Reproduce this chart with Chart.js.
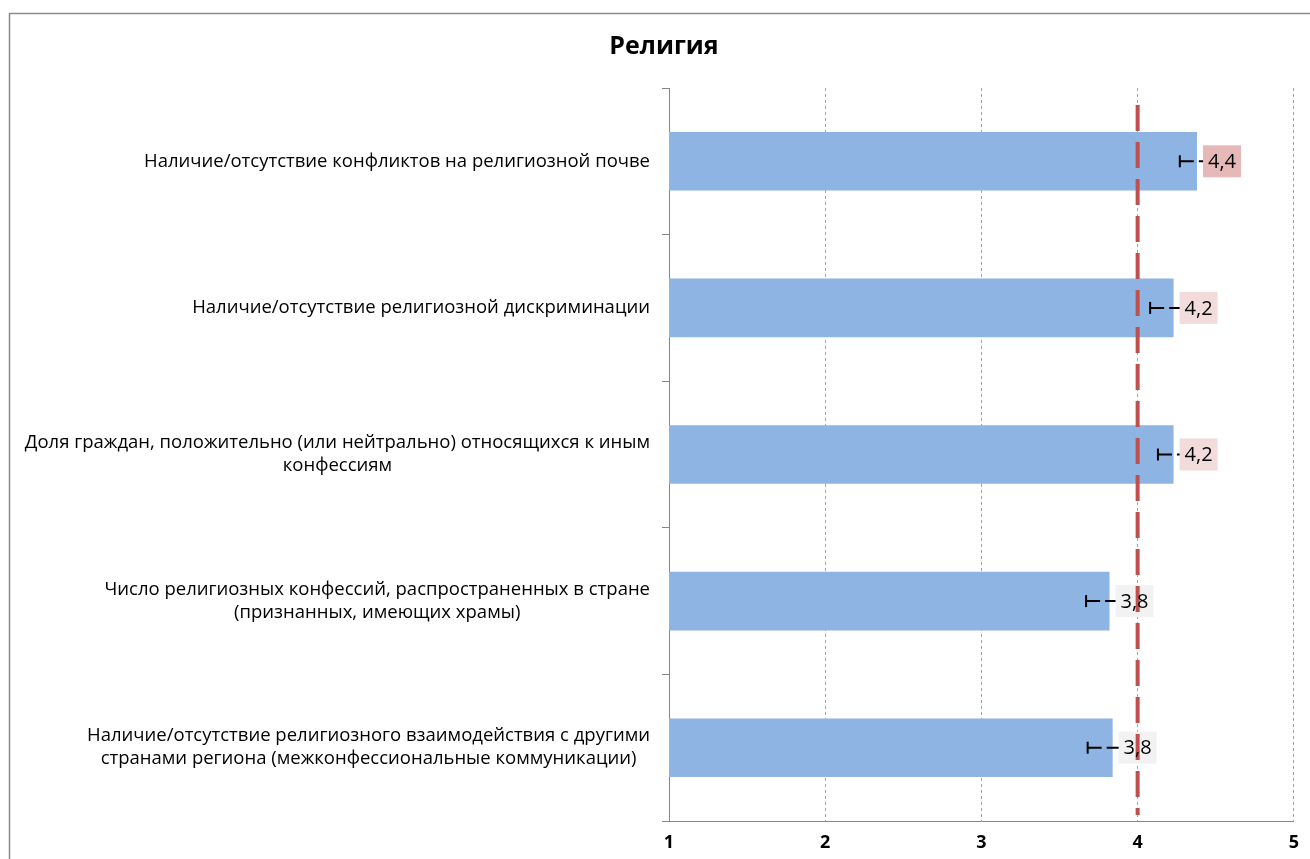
<!DOCTYPE html>
<html>
<head>
<meta charset="utf-8">
<script src="https://cdn.jsdelivr.net/npm/chart.js@4"></script>
<style>
  body { margin: 0; background: #fff; }
  #wrap { width: 1310px; height: 859px; }
</style>
</head>
<body>
<div id="wrap"><canvas id="myChart"></canvas></div>
<script>
const categories = [
    ['Наличие/отсутствие конфликтов на религиозной почве'],
    ['Наличие/отсутствие религиозной дискриминации'],
    ['Доля граждан, положительно (или нейтрально) относящихся к иным', 'конфессиям'],
    ['Число религиозных конфессий, распространенных в стране', '(признанных, имеющих храмы)'],
    ['Наличие/отсутствие религиозного взаимодействия с другими', 'странами региона (межконфессиональные коммуникации)']
];
const values = [4.38, 4.23, 4.23, 3.82, 3.84];
const errors = [0.11, 0.15, 0.10, 0.15, 0.16];
const valueLabels = ['4,4', '4,2', '4,2', '3,8', '3,8'];
const labelColors = ['#E6B9B8', '#F2DCDB', '#F2DCDB', '#F2F2F2', '#F2F2F2'];
const xMin = 1;
const xMax = 5;
const threshold = 4;

const FONT = "'Open Sans', 'Liberation Sans', sans-serif";

// frame, category labels, error bars, value labels, threshold line
const extras = {
    id: 'extras',
    beforeDraw(chart) {
        const ctx = chart.ctx;
        ctx.save();
        ctx.strokeStyle = '#8c8c8c';
        ctx.lineWidth = 1.5;
        ctx.strokeRect(9.5, 13.5, 1400, 1000);
        ctx.restore();
    },
    afterDatasetsDraw(chart) {
        const ctx = chart.ctx;
        const xs = chart.scales.x;
        const ys = chart.scales.y;
        const meta = chart.getDatasetMeta(0);
        ctx.save();

        // category labels, right block, lines centered inside it
        ctx.font = '18.5px ' + FONT;
        ctx.fillStyle = '#000';
        ctx.textAlign = 'center';
        ctx.textBaseline = 'middle';
        categories.forEach((lines, i) => {
            const cy = ys.getPixelForValue(i);
            const w = Math.max(...lines.map(l => ctx.measureText(l).width));
            const cx = xs.left - 19 - w / 2;
            lines.forEach((l, k) => {
                ctx.fillText(l, cx, cy + (k - (lines.length - 1) / 2) * 23);
            });
        });

        // error bars
        ctx.strokeStyle = '#000';
        ctx.lineWidth = 2;
        values.forEach((v, i) => {
            const cy = meta.data[i].y;
            const x0 = xs.getPixelForValue(v - errors[i]);
            const x1 = xs.getPixelForValue(v + errors[i]);
            ctx.setLineDash([14, 5]);
            ctx.beginPath();
            ctx.moveTo(x0, cy);
            ctx.lineTo(x1, cy);
            ctx.stroke();
            ctx.setLineDash([]);
            ctx.beginPath();
            ctx.moveTo(x0, cy - 6);
            ctx.lineTo(x0, cy + 6);
            ctx.stroke();
        });

        // label boxes
        values.forEach((v, i) => {
            const bar = meta.data[i];
            ctx.fillStyle = labelColors[i];
            ctx.fillRect(bar.x + 6, bar.y - 16, 38, 32);
        });

        // threshold line
        const tx = xs.getPixelForValue(threshold);
        ctx.strokeStyle = '#C0504D';
        ctx.lineWidth = 4;
        ctx.setLineDash([26, 11]);
        ctx.beginPath();
        ctx.moveTo(tx, ys.top + 17);
        ctx.lineTo(tx, ys.bottom - 6);
        ctx.stroke();
        ctx.setLineDash([]);

        // label texts
        ctx.font = '20px ' + FONT;
        ctx.fillStyle = '#000';
        ctx.textAlign = 'center';
        values.forEach((v, i) => {
            const bar = meta.data[i];
            ctx.fillText(valueLabels[i], bar.x + 25, bar.y + 1);
        });
        ctx.restore();
    }
};

const ctx = document.getElementById('myChart').getContext('2d');
const myChart = new Chart(ctx, {
    type: 'bar',
    data: {
        labels: categories,
        datasets: [{
            data: values,
            backgroundColor: '#8EB4E3',
            barPercentage: 0.4,
            categoryPercentage: 1
        }]
    },
    plugins: [extras],
    options: {
        indexAxis: 'y',
        responsive: true,
        maintainAspectRatio: false,
        animation: false,
        layout: {
            padding: { left: 33, right: 15, bottom: 0, top: 0 }
        },
        plugins: {
            legend: { display: false },
            tooltip: { enabled: false },
            title: {
                display: true,
                text: 'Религия',
                color: '#000',
                font: { family: FONT, size: 25, weight: 'bold' },
                padding: { top: 32, bottom: 26 }
            }
        },
        scales: {
            x: {
                min: xMin,
                max: xMax,
                afterFit(scale) { scale.height = 38; },
                ticks: {
                    stepSize: 1,
                    color: '#000',
                    padding: 11,
                    font: { family: FONT, size: 18, weight: 'bold' }
                },
                grid: {
                    color: '#a6a6a6',
                    drawTicks: false
                },
                border: {
                    display: true,
                    color: '#868686',
                    width: 1,
                    dash: [3, 3]
                }
            },
            y: {
                ticks: { display: false },
                afterFit(scale) { scale.width = 636; },
                grid: {
                    drawOnChartArea: false,
                    drawTicks: true,
                    tickLength: 7,
                    color: '#868686'
                },
                border: { color: '#868686', width: 1 }
            }
        }
    }
});
</script>
</body>
</html>
